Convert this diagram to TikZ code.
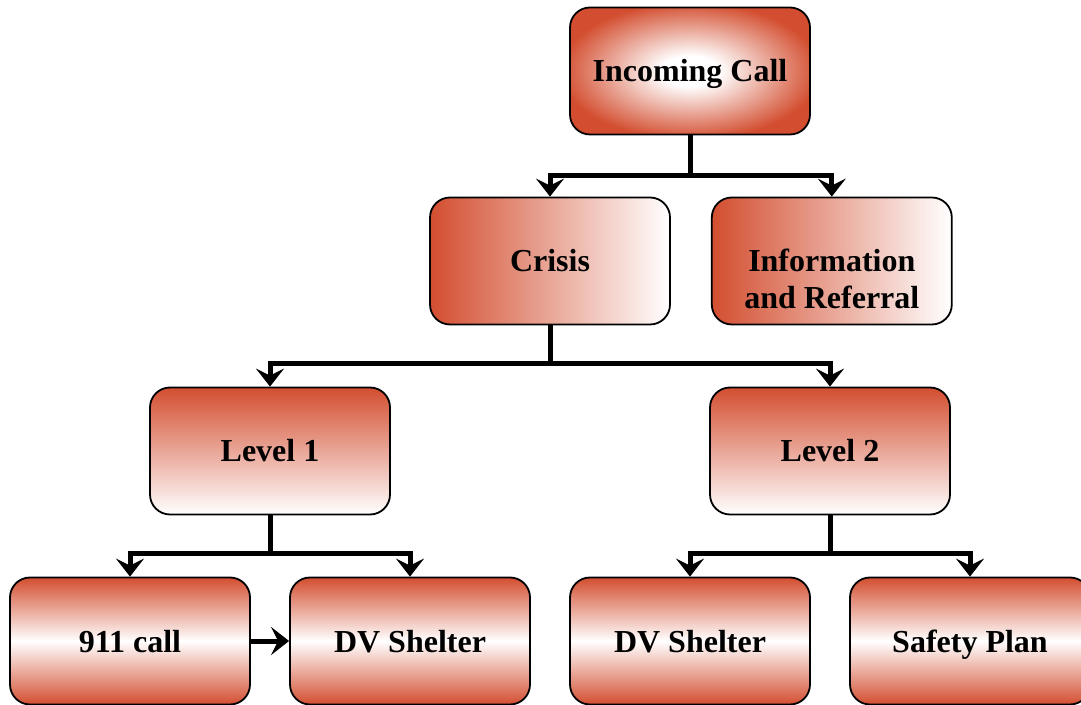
\documentclass[tikz,border=0pt]{standalone}
\usepackage{fontspec}
\setmainfont{Liberation Serif}
\usetikzlibrary{positioning,arrows.meta}

\definecolor{boxred}{RGB}{211,78,48}
\pgfdeclareradialshading{callglow}{\pgfpoint{0bp}{0bp}}{color(0bp)=(white); color(6bp)=(white); color(27bp)=(boxred); color(50bp)=(boxred)}

\tikzset{
  box/.style={draw=black, line width=1.8pt, rounded corners=20pt,
    minimum width=240pt, minimum height=127pt, inner sep=0pt, align=center,
    text height=22pt, text depth=0pt,
    font=\fontsize{32}{37}\selectfont\bfseries},
  radialbox/.style={box, shading=callglow},
  sidebox/.style={box, left color=boxred, right color=white},
  topbox/.style={box, top color=boxred, bottom color=white},
  bandbox/.style={box, top color=boxred, bottom color=boxred, middle color=white},
  conn/.style={line width=5pt, -{Stealth[length=18pt,width=28pt,inset=7pt]}},
}

\begin{document}
\begin{tikzpicture}[x=1pt, y=1pt]
  \useasboundingbox (0,0) rectangle (1081,704);

  % top of the tree
  \node[radialbox] (call) at (690,633) {Incoming Call};
  \node[sidebox] (crisis) at (550,443) {Crisis};
  % first line sits on the middle, as in the original
  \node[sidebox, right=40pt of crisis, text height=96pt] (info) {Information\\and Referral};

  % levels
  \node[topbox] (lvl1) at (270,253) {Level 1};
  \node[topbox] (lvl2) at (830,253) {Level 2};

  % bottom row
  \node[bandbox] (call911) at (130,63) {911 call};
  \node[bandbox] (shelterA) at (410,63) {DV Shelter};
  \node[bandbox] (shelterB) at (690,63) {DV Shelter};
  \node[bandbox] (plan) at (970,63) {Safety Plan};

  % connectors
  \draw[conn] (call.south) -- ++(0,-40) -| (crisis.north);
  \draw[conn] (call.south) -- ++(0,-40) -| (info.north);
  \draw[conn] (crisis.south) -- ++(0,-38) -| (lvl1.north);
  \draw[conn] (crisis.south) -- ++(0,-38) -| (lvl2.north);
  \draw[conn] (lvl1.south) -- ++(0,-38) -| (call911.north);
  \draw[conn] (lvl1.south) -- ++(0,-38) -| (shelterA.north);
  \draw[conn] (lvl2.south) -- ++(0,-38) -| (shelterB.north);
  \draw[conn] (lvl2.south) -- ++(0,-38) -| (plan.north);
  \draw[conn] (call911) -- (shelterA);
\end{tikzpicture}
\end{document}
